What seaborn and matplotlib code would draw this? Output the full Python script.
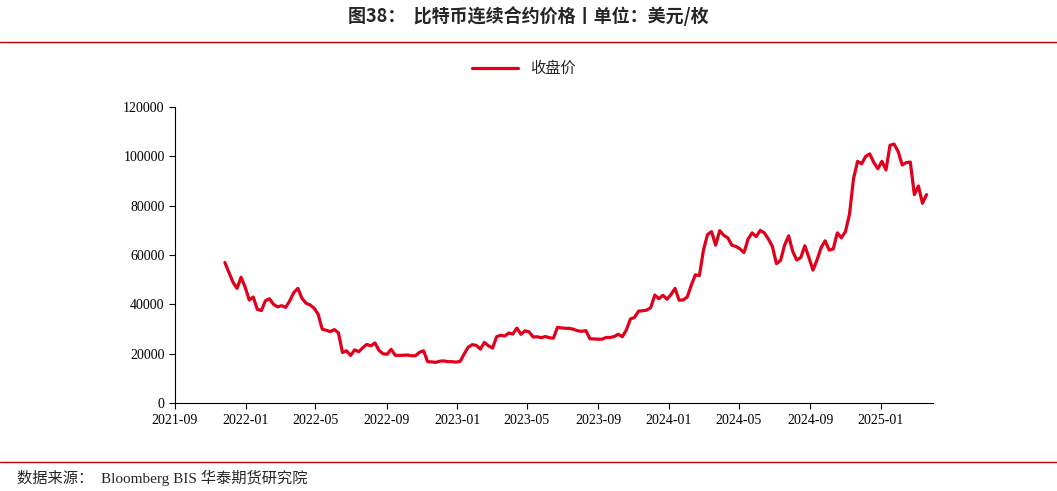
import matplotlib
matplotlib.use("Agg")
import matplotlib.pyplot as plt
import matplotlib.dates as mdates
import seaborn as sns
import pandas as pd

sns.set_theme(style="white")
plt.rcParams['font.family'] = ['Liberation Serif', 'Noto Sans CJK SC', 'DejaVu Sans']

v2021 = [57000, 53000, 49000, 46500, 51000, 47000]
v2022 = [41800, 43000, 38000, 37500, 41500, 42300, 40000, 39000, 39500, 38800, 41500, 44800,
         46500, 42500, 40500, 39800, 38500, 36000, 30000, 29500, 29000, 29800, 28500, 20500, 21200,
         19300, 21600, 20800, 22500, 23800, 23200, 24400, 21400, 20000, 19800, 21800, 19400, 19300, 19400,
         19500, 19200, 19200, 20600, 21200, 16800, 16700, 16500, 17000, 17100, 16800, 16800, 16600]
v2023 = [16900, 19900, 22700, 23700, 23400, 21900, 24600, 23200, 22300, 26900, 27500, 27200, 28400,
         28000, 30400, 27900, 29300, 28900, 26800, 26900, 26500, 27000, 26500, 26300, 30700, 30500,
         30300, 30300, 29900, 29300, 29100, 29400, 26100, 26000, 25900, 25900, 26600, 26600, 27000,
         27900, 26900, 29700, 34100, 34700, 37300, 37400, 37700, 38700, 43800, 42300, 43700, 42100]
v2024 = [44000, 46500, 41700, 41800, 43000, 47800, 52000, 51700, 62000, 68300, 69500, 64000, 69900,
         68000, 67000, 64000, 63500, 62500, 61000, 66500, 69000, 67500, 70000, 69000, 66500, 63500,
         56500, 57800, 64000, 67800, 61500, 58000, 59000, 63800, 59000, 53900, 58000, 63000, 65800,
         62000, 62500, 69000, 67000, 69500, 76500, 91000, 98000, 97000, 100000, 101000, 97500, 95000]
v2025 = [98000, 94500, 104500, 105000, 102000, 96500, 97500, 97700, 84500, 88000, 81000, 84500]

values = v2021 + v2022 + v2023 + v2024 + v2025
dates = pd.date_range("2021-11-26", periods=len(values), freq="7D")
df = pd.DataFrame({"date": dates, "收盘价": values})

fig = plt.figure(figsize=(10.57, 4.91), dpi=100)
ax = fig.add_axes([0.1656, 0.179, 0.717, 0.603])
sns.lineplot(data=df, x="date", y="收盘价", ax=ax, color="#E0001B", linewidth=2.3, label="收盘价")

ax.set_ylim(0, 120000)
ax.set_yticks(range(0, 120001, 20000))
ax.set_xlim(pd.Timestamp("2021-09-01"), pd.Timestamp("2025-04-01"))
ticks = pd.date_range("2021-09-01", "2025-01-01", freq="4MS")
ax.set_xticks(ticks)
ax.xaxis.set_major_formatter(mdates.DateFormatter("%Y-%m"))
ax.set_xlabel("")
ax.set_ylabel("")
for s in ["top", "right"]:
    ax.spines[s].set_visible(False)
for s in ["left", "bottom"]:
    ax.spines[s].set_color("black")
    ax.spines[s].set_linewidth(0.8)
ax.tick_params(axis="both", labelsize=10, colors="black", direction="out", length=4, width=0.8, left=True, bottom=True)

leg = ax.legend(loc="upper center", frameon=False, fontsize=11, handlelength=3)
leg.set_bbox_to_anchor((0.46, 1.2), transform=ax.transAxes)

fig.text(0.5, 0.968, "图38：  比特币连续合约价格丨单位：美元/枚", ha="center", va="center",
         fontsize=13, fontweight="bold", family=['Noto Sans CJK SC', 'DejaVu Sans'])
fig.add_artist(plt.Line2D([0.0, 1.0], [0.914, 0.914], color="#C00000", linewidth=1, transform=fig.transFigure))
fig.add_artist(plt.Line2D([0.0, 1.0], [0.059, 0.059], color="#C00000", linewidth=1, transform=fig.transFigure))
fig.text(0.016, 0.027, "数据来源：  Bloomberg BIS 华泰期货研究院", ha="left", va="center", fontsize=11)

fig.savefig("out.png", dpi=100)
